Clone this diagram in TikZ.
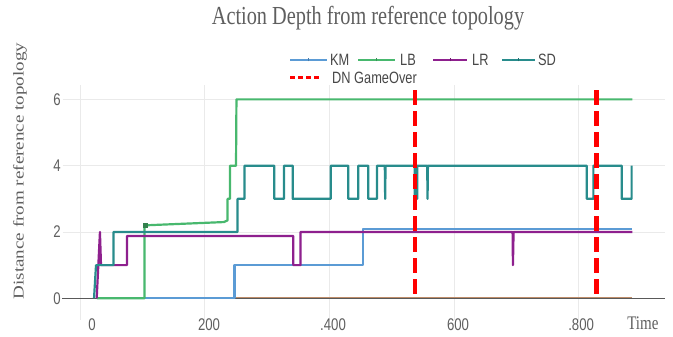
\documentclass[tikz,border=0pt]{standalone}
\usepackage{fontspec}
\setmainfont{Liberation Serif}
\setsansfont{Liberation Sans}
\definecolor{kmblue}{RGB}{91,155,213}
\definecolor{lbgreen}{RGB}{72,184,110}
\definecolor{lrpurple}{RGB}{142,32,142}
\definecolor{sdteal}{RGB}{40,140,140}
\definecolor{gridgray}{RGB}{234,234,234}
\definecolor{textgray}{RGB}{95,95,95}
\definecolor{zerobrown}{RGB}{190,140,105}
\newcommand{\vs}[1]{\scalebox{1}[1.28]{#1}}

\begin{document}
\begin{tikzpicture}[
    x=1pt, y=1pt,
    every node/.style={inner sep=0pt, text=textgray},
    heading/.style={font=\fontsize{20.3}{24}\selectfont},
    axislabel/.style={font=\fontsize{15}{18}\selectfont},
    ticklabel/.style={font=\sffamily\fontsize{13.2}{15}\selectfont},
    keylabel/.style={font=\sffamily\fontsize{12.8}{15}\selectfont, text=black!72, anchor=west},
    gridline/.style={gridgray, line width=0.8pt},
    trace/.style={line width=2.2pt, line join=round},
    keyline/.style={line width=2pt},
    gameover/.style={red, line width=4.6pt, dash pattern=on 15pt off 6pt}]

\useasboundingbox (0,0) rectangle (673,337);
\fill[white] (0,0) rectangle (673,337);

\node[heading] (title) at (368,319) {\vs{Action Depth from reference topology}};
\node[axislabel, rotate=90] (ylabel) at (20,166)
    {\scalebox{1.27}[1]{Distance from reference topology}};

% legend
\draw[keyline, kmblue] (290,277) -- (327,277);
\draw[kmblue!80!black, thin] (308.5,275.5) -- (308.5,278.5);
\node[keylabel] (kmkey) at (330,277) {\vs{KM}};
\draw[keyline, lbgreen] (358,277) -- (395,277);
\draw[lbgreen!80!black, thin] (376.5,275.5) -- (376.5,278.5);
\node[keylabel] (lbkey) at (400,277) {\vs{LB}};
\draw[keyline, lrpurple] (433,277) -- (467,277);
\draw[lrpurple!80!black, thin] (450,275.5) -- (450,278.5);
\node[keylabel] (lrkey) at (472,277) {\vs{LR}};
\draw[keyline, sdteal] (502,277) -- (535,277);
\draw[sdteal!80!black, thin] (518.5,275.5) -- (518.5,278.5);
\node[keylabel] (sdkey) at (538,277) {\vs{SD}};
\draw[red, line width=3pt, dash pattern=on 5pt off 3pt] (290,259) -- (321,259);
\node[keylabel] (dnkey) at (332,259) {\vs{DN GameOver}};

\begin{scope}[shift={(80pt,38.7pt)}, x=0.6233pt, y=33.15pt]
  \foreach \t in {0,200,...,800}
    \draw[gridline] (\t,-0.65) -- (\t,6.43);
  \foreach \v in {0,2,4,6} {
    \draw[gridline] (-28,\v) -- (939,\v);
    \node[ticklabel] (y\v) at (-37,\v) {\vs{\v}};
  }
  \node[ticklabel] (x0) at (19.3,-0.8) {\vs{0}};
  \node[ticklabel] (x200) at (207,-0.8) {\vs{200}};
  \node[ticklabel] (x400) at (406,-0.8) {\vs{.400}};
  \node[ticklabel] (x600) at (606.5,-0.8) {\vs{600}};
  \node[ticklabel] (x800) at (804,-0.8) {\vs{.800}};
  \node[axislabel] (xlabel) at (903,-0.75) {\vs{Time}};

  % zero level
  \draw[zerobrown, line width=2.2pt] (249,0) -- (886,0);
  \draw[black!65, line width=1pt] (-29,0) -- (939,0);

  % KM
  \draw[trace, kmblue] (27,0) -- (248,0) -- (248,1) -- (454,1) -- (454,2.1) -- (886,2.1);
  % LB
  \draw[trace, lbgreen] (27,0) -- (103.5,0) -- (103.5,2.2) -- (231,2.3) -- (236.7,2.35)
    -- (236.7,3) -- (240.7,3) -- (240.7,4) -- (250.3,4) -- (251,6) -- (886,6);
  \fill[lbgreen!70!black] (100.5,2.12) rectangle (108.5,2.28);
  % LR
  \draw[trace, lrpurple] (26.8,0) -- (32,2) -- (33.7,1) -- (75.4,1) -- (75.4,1.88)
    -- (342.2,1.88) -- (342.2,1) -- (353.8,1) -- (353.8,2) -- (694,2) -- (694.6,1)
    -- (695.6,2) -- (886,2);
  % SD
  \draw[trace, sdteal] (22.5,0) -- (25.7,1) -- (53.7,1) -- (53.7,2) -- (252.7,2)
    -- (252.7,3) -- (263.9,3) -- (263.9,4) -- (311.7,4) -- (311.7,3) -- (327.3,3)
    -- (327.3,4) -- (341.2,4) -- (341.2,3) -- (402.2,3) -- (402.2,4) -- (430.5,4)
    -- (430.5,3) -- (446.5,3) -- (446.5,4) -- (462.5,4) -- (462.5,3) -- (476.5,3)
    -- (476.5,4) -- (489,4) -- (489.6,3) -- (490.2,4) -- (537,4) -- (537,3)
    -- (541,3) -- (541,4) -- (557,4) -- (557.6,3) -- (558.2,4) -- (813,4)
    -- (813,3) -- (823.6,3) -- (823.6,4) -- (869,4) -- (869,3) -- (885,3) -- (885,4);

  % game over markers
  \draw[gameover] (537.5,6.28) -- (537.5,0);
  \draw[gameover] (829,6.28) -- (829,0);
\end{scope}

\end{tikzpicture}
\end{document}
